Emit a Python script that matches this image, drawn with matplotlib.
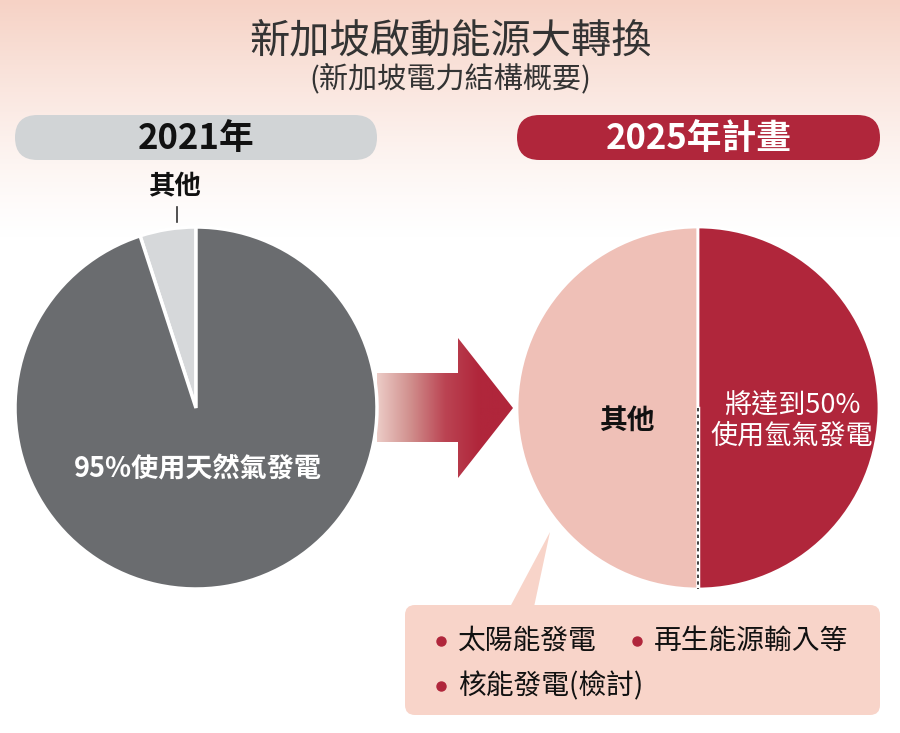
import numpy as np
import matplotlib
matplotlib.use('Agg')
import matplotlib.pyplot as plt
from matplotlib.patches import FancyBboxPatch, Polygon
from matplotlib.colors import LinearSegmentedColormap

plt.rcParams['font.family'] = ['Noto Sans CJK TC', 'DejaVu Sans']

# Data
title = '新加坡啟動能源大轉換'
subtitle = '(新加坡電力結構概要)'
years = ['2021年', '2025年計畫']
shares_2021 = [5, 95]          # 其他, 天然氣
labels_2021 = ['其他', '95%使用天然氣發電']
shares_2025 = [50, 50]         # 其他, 氫氣
labels_2025 = ['其他', '將達到50%\n使用氫氣發電']
other_sources = ['太陽能發電', '再生能源輸入等', '核能發電(檢討)']

W, H = 900, 733
fig = plt.figure(figsize=(W / 100, H / 100), dpi=100)
ax = fig.add_axes([0, 0, 1, 1])
ax.set_xlim(0, W)
ax.set_ylim(H, 0)
ax.axis('off')

# background gradient at the top
grad = np.linspace(1, 0, 256).reshape(-1, 1) ** 1.3
bg_cmap = LinearSegmentedColormap.from_list('bg', ['#ffffff', '#f6d2c5'])
ax.imshow(grad, cmap=bg_cmap, extent=[0, W, 240, 0], aspect='auto', zorder=0)

ax.text(450, 41, title, ha='center', va='center', fontsize=29, weight='light', color='#333333')
ax.text(450, 79, subtitle, ha='center', va='center', fontsize=21, weight='light', color='#333333')

# year pills
pill_colors = ['#d1d4d6', '#b0263b']
pill_text = ['#111111', '#ffffff']
for i, (x0, x1) in enumerate([(15, 377), (517, 880)]):
    p = FancyBboxPatch((x0, 115), x1 - x0, 45,
                       boxstyle='round,pad=0,rounding_size=22.5',
                       fc=pill_colors[i], ec='none', zorder=2)
    ax.add_patch(p)
    ax.text((x0 + x1) / 2, 138, years[i], ha='center', va='center',
            fontsize=25, weight='bold', color=pill_text[i], zorder=3)


def pie_axes(cx, cy, r):
    pa = fig.add_axes([(cx - r) / W, (H - cy - r) / H, 2 * r / W, 2 * r / H])
    pa.set_xlim(-1, 1)
    pa.set_ylim(-1, 1)
    pa.axis('off')
    return pa


# 2021 pie
pa1 = pie_axes(196, 408, 181)
pa1.pie(shares_2021, colors=['#d6d8da', '#6a6c6f'], startangle=90, counterclock=True,
        radius=1, wedgeprops=dict(edgecolor='white', linewidth=2.5))
pa1.set_xlim(-1, 1)
pa1.set_ylim(-1, 1)
pa1.text(0.01, -0.34, labels_2021[1], ha='center', va='center', fontsize=19.5,
         weight='bold', color='white')
ax.text(175, 186, labels_2021[0], ha='center', va='center', fontsize=19, weight='bold', color='#111111')
ax.plot([177, 177], [207, 222], color='#333333', lw=1.2)

# 2025 pie
pa2 = pie_axes(698, 408, 181)
pa2.pie(shares_2025, colors=['#efc0b7', '#b0263b'], startangle=90, counterclock=True,
        radius=1, wedgeprops=dict(edgecolor='white', linewidth=2))
pa2.set_xlim(-1, 1)
pa2.set_ylim(-1, 1)
pa2.plot([0, 0], [0, -1], color='white', lw=2.5)
pa2.plot([0, 0], [0, -1], color='#222222', lw=1.2, dashes=(2, 2))
pa2.text(-0.39, -0.07, labels_2025[0], ha='center', va='center', fontsize=20,
         weight='bold', color='#111111')
pa2.text(0.52, -0.07, labels_2025[1], ha='center', va='center', fontsize=19.5,
         weight='medium', color='white', linespacing=1.15)

# gradient arrow between pies
arrow_pts = [(377, 373), (458, 373), (458, 338), (513, 408), (458, 478), (458, 442), (377, 442)]
arr_cmap = LinearSegmentedColormap.from_list('arr', ['#ecccc7', '#d08e8c', '#bb4453', '#b0263b', '#b0263b'])
im = ax.imshow(np.linspace(0, 1, 256).reshape(1, -1), cmap=arr_cmap,
               extent=[377, 513, 478, 338], aspect='auto', zorder=2)
clip = Polygon(arrow_pts, closed=True, fc='none', ec='none', transform=ax.transData)
ax.add_patch(clip)
im.set_clip_path(clip)

# callout box
box_col = '#f8d4c9'
ax.add_patch(Polygon([(510, 607), (534, 607), (550, 532)], closed=True, fc=box_col, ec='none', zorder=2))
ax.add_patch(FancyBboxPatch((405, 605), 475, 110, boxstyle='round,pad=0,rounding_size=10',
                            fc=box_col, ec='none', zorder=2))
pos = [(441, 641), (637, 641), (441, 686)]
for (bx, by), s in zip(pos, other_sources):
    ax.plot(bx, by, 'o', color='#b0263b', ms=6.5, zorder=3)
    ax.text(bx + 17, by, s, ha='left', va='center', fontsize=20, weight='medium',
            color='#111111', zorder=3)

fig.savefig('out.png', dpi=100)
